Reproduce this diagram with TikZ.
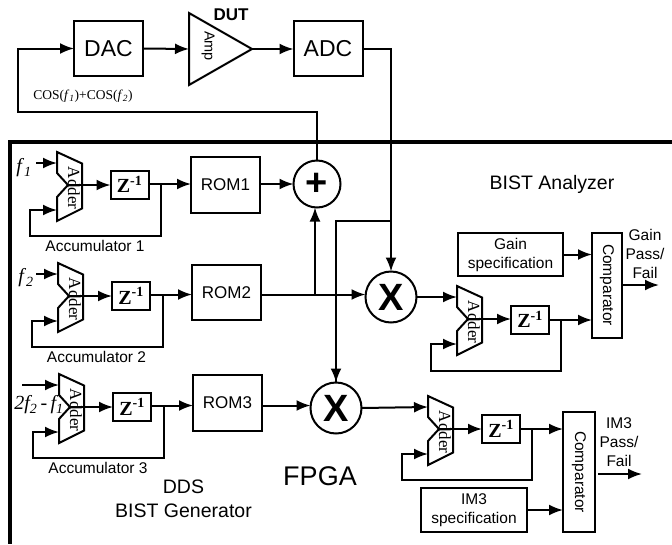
\documentclass[tikz,border=0pt]{standalone}
\usepackage{fontspec}
\setmainfont{Liberation Sans}
\newfontfamily\timesfont{Liberation Serif}
\usetikzlibrary{arrows.meta,shapes.geometric}
\newcommand{\fq}[1]{\textit{f}\textsubscript{\textit{#1}}}
\newcommand{\zinv}{\textbf{Z}\textsuperscript{\textbf{-1}}}

\begin{document}
\begin{tikzpicture}[x=1pt,y=-1pt,line width=2pt,
                   wire/.style={-{Latex[length=14pt,width=11pt]}},
                   plain/.style={font=\fontsize{15.5}{19}\selectfont,align=center,inner sep=0pt},
                   big/.style={font=\fontsize{19.5}{24}\selectfont,align=center,inner sep=0pt},
                   serif/.style={font=\timesfont\fontsize{20}{22}\selectfont,inner sep=0pt},
                   blockbox/.style={draw,minimum width=#1,outer sep=0pt,inner sep=0pt},
                   blockbox/.default=69pt,
                   zbox/.style={draw,minimum width=38pt,minimum height=28pt,outer sep=0pt,inner sep=0pt,
                     font=\timesfont\fontsize{20}{22}\selectfont},
                   mixer/.style={draw,circle,minimum size=#1,outer sep=0pt,inner sep=0pt,
                     font=\fontsize{38}{38}\selectfont\bfseries},
                   adder/.pic={
                     \draw (0,0) -- (25,11.5) -- (25,56.5) -- (0,69) -- (0,45) -- (11,33) -- (0,21) -- cycle;
                     \coordinate (-in1) at (0,11);
                     \coordinate (-in2) at (0,58);
                     \coordinate (-out) at (11,33);
                     \node[rotate=-90,font=\timesfont\fontsize{17}{19}\selectfont,inner sep=0pt] (-lbl) at (17,36) {Adder};
                   }]
  \useasboundingbox (0,0) rectangle (672,544);

  \node[blockbox,minimum height=55pt,font=\fontsize{23}{25}\selectfont] (dac) at (108.5,48.5) {DAC};
  \node[draw,isosceles triangle,isosceles triangle stretches,minimum width=72pt,minimum height=63pt,
        anchor=lower side,outer sep=0pt,inner sep=0pt] (amp) at (189,49) {};
  \node[rotate=-90,font=\fontsize{14.5}{16}\selectfont,inner sep=0pt] (amptxt) at (208,46) {Amp};
  \node[font=\fontsize{17}{19}\selectfont\bfseries,inner sep=0pt] (dut) at (231,15) {DUT};
  \node[blockbox,minimum height=55pt,font=\fontsize{23}{25}\selectfont] (adc) at (328,48.5) {ADC};
  \node[font=\timesfont\fontsize{13.5}{15}\selectfont,inner sep=0pt] (cos) at (83,96) {COS(\fq{1})+COS(\fq{2})};

  \draw[line width=3.2pt] (672,142) -- (10,142) -- (10,544);

  \pic (add1) at (57,152) {adder};
  \pic (add2) at (58,263) {adder};
  \pic (add3) at (59,374) {adder};
  \pic (add4) at (457,286) {adder};
  \pic (add5) at (428,396) {adder};

  \node[zbox] (z1) at (129.5,184.5) {\zinv};
  \node[zbox] (z2) at (131,296) {\zinv};
  \node[zbox] (z3) at (132,407) {\zinv};
  \node[zbox] (z4) at (530,319.5) {\zinv};
  \node[zbox] (z5) at (501,429) {\zinv};

  \node[blockbox,minimum height=56pt,font=\fontsize{17}{19}\selectfont] (rom1) at (225.5,184.5) {ROM1};
  \node[blockbox,minimum height=55pt,font=\fontsize{17}{19}\selectfont] (rom2) at (226.5,292.5) {ROM2};
  \node[blockbox,minimum height=56pt,font=\fontsize{17}{19}\selectfont] (rom3) at (227.5,403) {ROM3};

  \node[mixer=47pt] (plus) at (317,184) {+};
  \node[mixer=51pt] (x1) at (391,297) {X};
  \node[mixer=51pt] (x2) at (336,408) {X};

  \node[serif] (f1) at (24,168) {\fq{1}};
  \node[serif] (f2) at (26,278) {\fq{2}};
  \node[serif] (f3) at (39,405) {\itshape 2\fq{2}\,-\,\fq{1}};
  \coordinate (f1in) at (36,163);
  \coordinate (f2in) at (36,274);
  \coordinate (f3in) at (22,385);

  \node[plain] (acc1) at (95,246) {Accumulator 1};
  \node[plain] (acc2) at (96.5,357) {Accumulator 2};
  \node[plain] (acc3) at (98,468) {Accumulator 3};
  \node[big] (ddsgen) at (183.5,499) {DDS\\BIST Generator};
  \node[font=\fontsize{27}{29}\selectfont,inner sep=0pt] (fpga) at (320,476) {FPGA};
  \node[big] (analyzer) at (552,184) {BIST Analyzer};

  \node[blockbox=105pt,minimum height=43.5pt,plain] (gspec) at (510.5,254.5) {Gain\\specification};
  \node[blockbox=30pt,minimum height=105pt] (cmp1) at (607,285.5) {};
  \node[rotate=-90,plain] (cmp1txt) at (607,285) {Comparator};
  \node[plain] (gainres) at (645,254) {Gain\\Pass/\\Fail};
  \node[blockbox=106pt,minimum height=44pt,plain] (ispec) at (474,510) {IM3\\specification};
  \node[blockbox=32pt,minimum height=120pt] (cmp2) at (579,472) {};
  \node[rotate=-90,plain] (cmp2txt) at (579,472) {Comparator};
  \node[plain] (imres) at (619,442.5) {IM3\\Pass/\\Fail};

  \coordinate (loopl) at (18,112);
  \coordinate (tap1) at (161,184);
  \coordinate (tap2) at (162.5,294.5);
  \coordinate (tap3) at (164,405.5);
  \coordinate (tap4) at (561,320);
  \coordinate (tap5) at (532,429);
  \coordinate (fb1) at (30,236);
  \coordinate (fb2) at (31.5,347);
  \coordinate (fb3) at (33,458);
  \coordinate (fb4) at (431,371);
  \coordinate (fb5) at (402,480);
  \coordinate (romtap) at (315,294.5);
  \coordinate (adctap) at (391,221);
  \coordinate (gainout) at (659,285);
  \coordinate (imstart) at (598,474);
  \coordinate (imout) at (642,474);

  \draw[wire] (plus.north) |- (loopl) |- (dac.west);
  \draw[wire] (dac.east) -- (amp.lower side);
  \draw[wire] (amp.apex) -- (adc.west |- amp.apex);
  \draw[wire] (adc.east) -| (x1.north);
  \draw (adctap) -| (x2.north);
  \draw[wire] (x2.north |- adctap) -- (x2.north);

  \draw[wire] (f1in) -- (add1-in1);
  \draw[wire] (f2in) -- (add2-in1);
  \draw[wire] (f3in) -- (add3-in1);

  \draw[wire] (add1-out) -- (z1.west |- add1-out);
  \draw[wire] (add2-out) -- (z2.west |- add2-out);
  \draw[wire] (add3-out) -- (z3.west |- add3-out);
  \draw[wire] (add4-out) -- (z4.west |- add4-out);
  \draw[wire] (add5-out) -- (z5.west |- add5-out);

  \draw[wire] (z1.east |- tap1) -- (rom1.west |- tap1);
  \draw[wire] (z2.east |- tap2) -- (rom2.west |- tap2);
  \draw[wire] (z3.east |- tap3) -- (rom3.west |- tap3);
  \draw[wire] (z4.east |- tap4) -- (cmp1.west |- tap4);
  \draw[wire] (z5.east |- tap5) -- (cmp2.west |- tap5);

  \draw[wire] (tap1) |- (fb1) |- (add1-in2);
  \draw[wire] (tap2) |- (fb2) |- (add2-in2);
  \draw[wire] (tap3) |- (fb3) |- (add3-in2);
  \draw[wire] (tap4) |- (fb4) |- (add4-in2);
  \draw[wire] (tap5) |- (fb5) |- (add5-in2);

  \draw[wire] (rom1.east |- tap1) -- (plus.west |- tap1);
  \draw[wire] (rom2.east |- romtap) -- (x1.west |- romtap);
  \draw[wire] (romtap) -- (romtap |- plus.south);
  \draw[wire] (rom3.east |- tap3) -- (x2.west |- tap3);
  \draw[wire] (x1.east) -- (add4-in1);
  \draw[wire] (x2.east) -- (add5-in1);

  \draw[wire] (gspec.east) -- (cmp1.west |- gspec.east);
  \draw[wire] (ispec.east) -- (cmp2.west |- ispec.east);
  \draw[wire] (cmp1.east |- gainout) -- (gainout);
  \draw[wire] (imstart) -- (imout);
\end{tikzpicture}
\end{document}
